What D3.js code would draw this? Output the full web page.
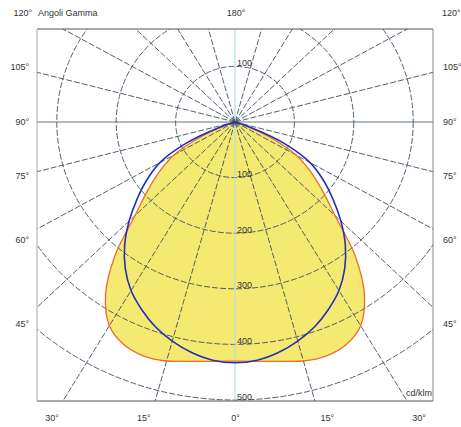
<!DOCTYPE html>
<html><head><meta charset="utf-8">
<script src="https://cdn.jsdelivr.net/npm/d3@7"></script>
<style>body{margin:0;background:#fff}svg{display:block}text{font-family:"Liberation Sans",Arial,sans-serif;font-size:9px;fill:#333}</style>
</head><body><svg id="c" width="461" height="427"></svg>
<script>
// gamma angles (deg) and intensities (cd/klm)
const gammas = [0,5,10,15,20,25,30,35,40,45,50,55,60,65,70,75,80,85,90];
const planeC0 = [430,432,437,445,448,442,423,380,315,238,192,155,118,64,14,0,0,0,0];   // yellow / orange
const planeC90 = [433,430,421,408,392,372,350,322,289,252,215,181,146,92,24,0,0,0,0]; // blue
const rings = [100,200,300,400,500];
const spokes = d3.range(0,360,15);
const sideLabels = ["105°","90°","75°","60°","45°"];
const sideLabelY = [70,125,179,243,327];
const bottomLabels = ["30°","15°","0°","15°","30°"];
const unitLabel = "cd/klm";
const titleLabel = "Angoli Gamma";

const svg = d3.select("#c");
const cx = 235, cy = 122;
const frame = {x0:37, y0:29, x1:433, y1:401};
const sx = d3.scaleLinear().domain([0,500]).range([0,297]);
const sy = d3.scaleLinear().domain([0,500]).range([0,278]);
const pt = (g,I) => { const a = g*Math.PI/180; return [cx + Math.sin(a)*sx(I), cy + Math.cos(a)*sy(I)]; };

svg.append("defs").append("clipPath").attr("id","clip").append("rect")
  .attr("x",frame.x0).attr("y",frame.y0).attr("width",frame.x1-frame.x0).attr("height",frame.y1-frame.y0);

const full = (vals) => {
  const pts = [];
  for (let i=gammas.length-1;i>=0;i--) pts.push(pt(-gammas[i], vals[i]));
  for (let i=1;i<gammas.length;i++) pts.push(pt(gammas[i], vals[i]));
  return pts;
};
const line = d3.line().curve(d3.curveCatmullRom.alpha(0.5));

const g = svg.append("g").attr("clip-path","url(#clip)");
g.append("path").attr("d", line(full(planeC0)) + "Z").attr("fill","#f4ea72").attr("stroke","none");

const gridCol = "#3f4d60";
rings.forEach(r => {
  g.append("ellipse").attr("cx",cx).attr("cy",cy).attr("rx",sx(r)).attr("ry",sy(r))
    .attr("fill","none").attr("stroke",gridCol).attr("stroke-width",0.9).attr("stroke-dasharray","6,2");
});
spokes.forEach(s => {
  const e = pt(s, 1200);
  const vertical = s % 180 === 0;
  const horizontal = s % 180 === 90;
  g.append("line").attr("x1",cx).attr("y1",cy).attr("x2",e[0]).attr("y2",e[1])
    .attr("stroke", vertical ? "#b5dbe8" : horizontal ? "#56657c" : gridCol)
    .attr("stroke-width", vertical ? 1.2 : 0.9)
    .attr("stroke-dasharray", (vertical||horizontal) ? null : "6,2");
});

g.append("path").attr("d", line(full(planeC0))).attr("fill","none").attr("stroke","#ef6a2c").attr("stroke-width",1.3);
g.append("path").attr("d", line(full(planeC90))).attr("fill","none").attr("stroke","#2430b8").attr("stroke-width",1.6);

rings.forEach(r => {
  svg.append("text").attr("x",cx+2).attr("y",cy+sy(r)-0.5).text(r);
});
svg.append("text").attr("x",cx+2).attr("y",cy-sy(100)-0.5).text(rings[0]);

svg.append("line").attr("x1",frame.x0).attr("x2",frame.x1).attr("y1",frame.y0).attr("y2",frame.y0).attr("stroke","#555").attr("stroke-width",1.2);
svg.append("line").attr("x1",frame.x0).attr("x2",frame.x1).attr("y1",frame.y1).attr("y2",frame.y1).attr("stroke","#555").attr("stroke-width",1.2);
svg.append("line").attr("x1",frame.x0).attr("x2",frame.x0).attr("y1",frame.y0).attr("y2",frame.y1).attr("stroke","#aaa");
svg.append("line").attr("x1",frame.x1).attr("x2",frame.x1).attr("y1",frame.y0).attr("y2",frame.y1).attr("stroke","#888");

svg.append("text").attr("x",32).attr("y",16).attr("text-anchor","end").text("120°");
svg.append("text").attr("x",38).attr("y",16).text(titleLabel);
svg.append("text").attr("x",236).attr("y",16).attr("text-anchor","middle").text("180°");
svg.append("text").attr("x",442).attr("y",16).text("120°");
sideLabels.forEach((t,i) => {
  svg.append("text").attr("x",29).attr("y",sideLabelY[i]).attr("text-anchor","end").text(t);
  svg.append("text").attr("x",443).attr("y",sideLabelY[i]).text(t);
});
const bx = d3.scalePoint().domain(d3.range(bottomLabels.length)).range([52,419]);
bottomLabels.forEach((t,i) => {
  svg.append("text").attr("x",bx(i)).attr("y",421).attr("text-anchor","middle").text(t);
});
svg.append("text").attr("x",432).attr("y",396).attr("text-anchor","end").text(unitLabel);
</script></body></html>
